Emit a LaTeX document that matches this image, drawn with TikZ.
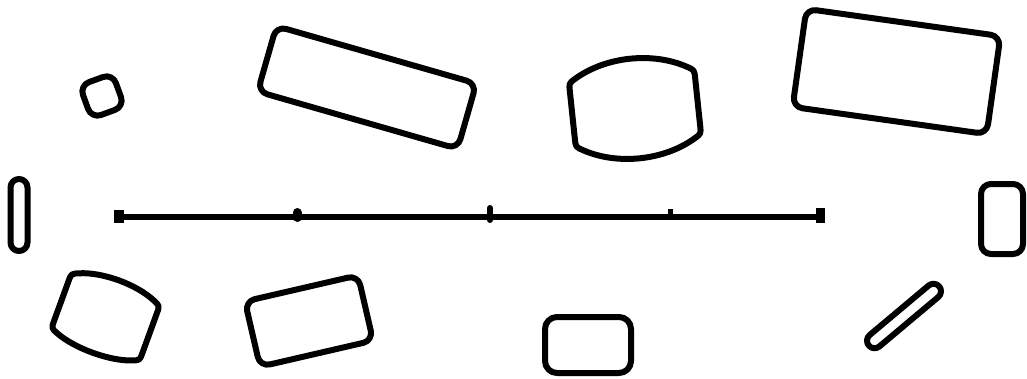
\documentclass[tikz,border=0pt]{standalone}
\begin{document}
\begin{tikzpicture}[x=1pt,y=1pt,
  outline/.style={draw=black, line width=6pt, fill=none, line join=round},
  rbox/.style={outline, rectangle, inner sep=0pt, outer sep=0pt, rounded corners=#1},
  rbox/.default=10pt,
  axisline/.style={line width=5.5pt},
]
\useasboundingbox (0,0) rectangle (1027,378);
\fill[white] (0,0) rectangle (1027,378);

% rounded boxes
\node[rbox=10pt, minimum width=35pt, minimum height=35pt, rotate=20] (sq) at (102,282) {};
\node[rbox=8.5pt, minimum width=17pt, minimum height=72pt] (pillv) at (19,163) {};
\node[rbox=10pt, minimum width=42pt, minimum height=70pt] (rr) at (1002,159) {};
\node[rbox=10pt, minimum width=116pt, minimum height=67pt, rotate=13] (bl) at (309,57) {};
\node[rbox=12pt, minimum width=86pt, minimum height=56pt] (bc) at (588,33) {};
\node[rbox=7.5pt, minimum width=92pt, minimum height=15pt, rotate=40] (pilld) at (904,62) {};
\node[rbox=10pt, minimum width=208pt, minimum height=68pt, rotate=-16] (tl) at (367,290.5) {};
\node[rbox=10pt, minimum width=196pt, minimum height=99pt, rotate=-8] (tr) at (896.5,306.5) {};

% barrels
\begin{scope}[shift={(635,269.5)}, rotate=6]
  \draw[outline] (63,-24) -- (63,24) .. controls (63,32) .. (56.1,36.0)
    .. controls (23.4,54.7) and (-23.4,54.7) .. (-56.1,36.0)
    .. controls (-63,32) .. (-63,24) -- (-63,-24)
    .. controls (-63,-32) .. (-56.1,-36.0)
    .. controls (-23.4,-54.7) and (23.4,-54.7) .. (56.1,-36.0)
    .. controls (63,-32) .. (63,-24) -- cycle;
\end{scope}
\begin{scope}[shift={(105.5,61)}, rotate=-20]
  \draw[outline] (47,-21) -- (47,21) .. controls (47,29) .. (39.6,32.1)
    .. controls (18.0,41.3) and (-18.0,41.3) .. (-39.6,32.1)
    .. controls (-47,29) .. (-47,21) -- (-47,-21)
    .. controls (-47,-29) .. (-39.5,-31.9)
    .. controls (-18.4,-40.0) and (18.4,-40.0) .. (39.5,-31.9)
    .. controls (47,-29) .. (47,-21) -- cycle;
\end{scope}

% axis
\coordinate (L) at (118,161);
\coordinate (R) at (821,161);
\draw[axisline] (L) -- (R);
\fill (114,155) rectangle (124,168);
\fill (816,155) rectangle (825,170);
\draw[line width=9pt, line cap=round] (297,160.5) -- (297,165.5);
\draw[line width=6pt, line cap=round] (490,158) -- (490,170);
\fill (667.5,161) rectangle (672.5,169);
\end{tikzpicture}
\end{document}
